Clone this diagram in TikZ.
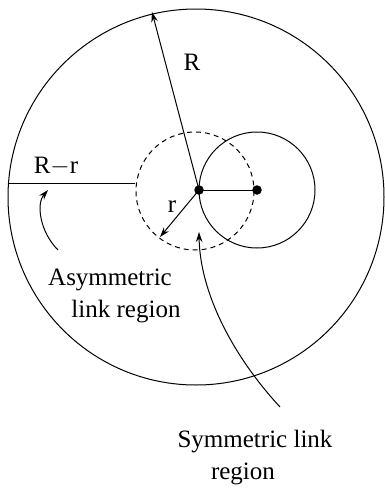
\documentclass[tikz,border=0pt]{standalone}
\usepackage{fontspec}
\setmainfont{Liberation Serif}
\usetikzlibrary{arrows.meta}

\tikzset{every picture/.style={line width=1pt}}
\tikzset{
  lbl/.style={inner sep=0.75pt, font=\fontsize{25}{29}\selectfont},
  tip/.style={-{Stealth[length=10pt,width=6.5pt]}},
  dot/.style={circle, fill, inner sep=0pt, minimum size=9.5pt},
}

\begin{document}
\begin{tikzpicture}[x=1pt,y=1pt,yscale=-1,xscale=1]
\useasboundingbox (0,0) rectangle (385,490);

%Shape: Circle (outer range)
\draw (196,197) circle [radius=188];
%Shape: Circle (dashed)
\draw [dash pattern={on 5pt off 4pt}] (195,191) circle [radius=59];
%Shape: Circle (small)
\draw (257,190) circle [radius=58];

% Dots
\node [dot] (u) at (199,190) {};
\node [dot] (v) at (257,190) {};
\coordinate (rtop) at (152,12);
\coordinate (rlow) at (160,237);
\coordinate (ll) at (9,183);
\coordinate (lr) at (135,183);

%Straight Lines
\draw (u.center) -- (v.center);
\draw [tip] (u.center) -- (rtop);
\draw [tip] (u.center) -- (rlow);
\draw (ll) -- (lr);

%Curve Lines
\coordinate (a0) at (58,250);
\coordinate (a1) at (48,190);
\draw [tip] (a0) .. controls (40,232) and (36,204) .. (a1);
\coordinate (s0) at (280,407);
\coordinate (s1) at (199,232);
\draw [tip] (s0) .. controls (232,355) and (200,292) .. (s1);

% Text Node
\node [lbl] (lR) at (192,62) {R};
% Text Node
\node [lbl] (lRr) at (56,166) {R$-$r};
% Text Node
\node [lbl] (lr) at (172,207) {r};
% Text Node
\node [lbl] (asym1) at (110,280) {Asymmetric};
% Text Node
\node [lbl] (asym2) at (126,312) {link region};
% Text Node
\node [lbl] (sym1) at (255,442) {Symmetric link};
% Text Node
\node [lbl] (sym2) at (243,474) {region};

\end{tikzpicture}
\end{document}
